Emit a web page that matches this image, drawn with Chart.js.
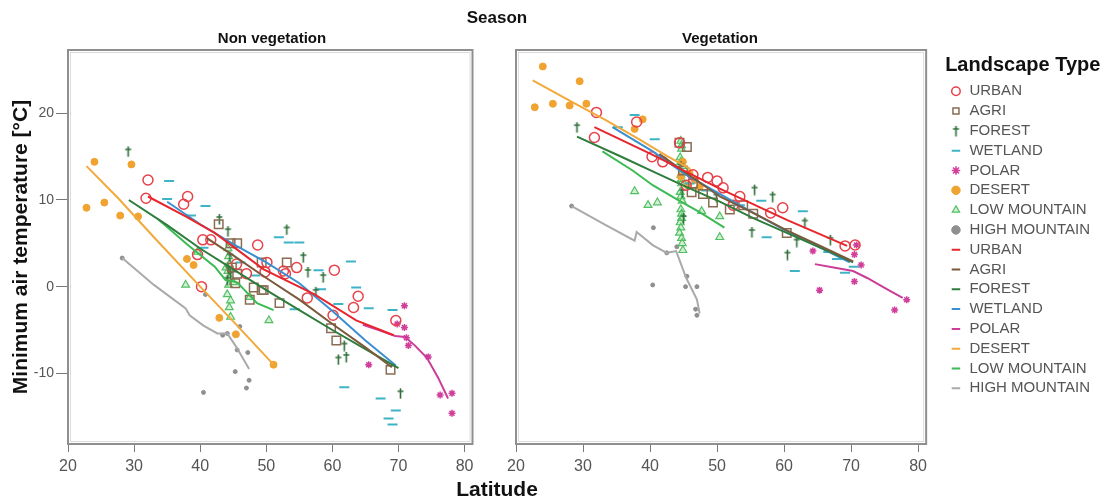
<!DOCTYPE html>
<html>
<head>
<meta charset="utf-8">
<script src="https://cdn.jsdelivr.net/npm/chart.js@4.4.1/dist/chart.umd.min.js"></script>
<style>
    body { margin: 0; background: #fff; width: 1113px; height: 502px; position: relative; overflow: hidden; font-family: "Liberation Sans", Arial, sans-serif; }
    canvas { position: absolute; top: 0; }
    #nonVegChart { left: 0; }
    #vegChart { left: 480px; }
    .lbl { position: absolute; font-weight: bold; color: #111; white-space: nowrap; transform: translateX(-50%); }
</style>
</head>
<body>
<canvas id="nonVegChart" width="480" height="502"></canvas>
<canvas id="vegChart" width="633" height="502"></canvas>
<div class="lbl" style="left:497px; top:8px; font-size:17px; line-height:20px;">Season</div>
<div class="lbl" style="left:272px; top:29px; font-size:15px; line-height:18px;">Non vegetation</div>
<div class="lbl" style="left:720px; top:29px; font-size:15px; line-height:18px;">Vegetation</div>
<div class="lbl" style="left:497px; top:476px; font-size:21px; line-height:25px;">Latitude</div>
<script>
// Landscape types (legend order)
const landscapeTypes = ['URBAN', 'AGRI', 'FOREST', 'WETLAND', 'POLAR', 'DESERT', 'LOW MOUNTAIN', 'HIGH MOUNTAIN'];
const xTickValues = [20, 30, 40, 50, 60, 70, 80];
const yTickValues = [-10, 0, 10, 20];

// ---- Non vegetation season: observed points [latitude, min temp] ----
const nvUrban = [[31.8, 10.2], [32.1, 12.3], [37.5, 9.5], [38.1, 10.4], [39.6, 3.7], [40.4, 5.4], [41.6, 5.4], [40.2, 0.0],
    [48.7, 4.8], [50.1, 2.8], [49.8, 1.7], [52.9, 1.5], [54.6, 2.2], [52.6, 1.8], [56.2, -1.3], [60.3, 1.9],
    [60.1, -3.3], [63.9, -1.1], [63.2, -2.4], [69.6, -3.9], [45.5, 2.6], [47.0, 1.5]];
const nvAgri = [[42.8, 7.2], [44.6, 5.0], [45.6, 5.0], [45.3, 0.4], [48.1, -0.1], [49.6, -0.4], [47.5, -1.5], [49.3, 2.8],
    [53.1, 2.8], [49.3, -0.4], [52.0, -1.9], [59.8, -4.8], [60.6, -6.2], [68.8, -9.6], [45.6, 1.5], [44.8, 2.2]];
const nvForest = [[29.1, 15.6], [42.9, 7.8], [44.2, 6.4], [44.5, 3.5], [44.3, 2.0], [44.1, 0.8], [44.6, 1.5], [55.6, 3.4],
    [58.6, 1.1], [56.3, 1.7], [57.5, -0.6], [61.8, -6.8], [60.9, -8.4], [62.1, -8.1], [70.3, -12.3], [53.1, 6.6]];
const nvWetland = [[35.3, 12.2], [35.0, 10.1], [40.8, 9.3], [38.6, 8.2], [40.5, 4.5], [46.1, 2.8], [48.3, 1.3], [51.9, 5.7],
    [53.4, 5.1], [55.0, 5.1], [62.8, 2.9], [57.9, 1.9], [63.6, -0.1], [65.5, -2.5], [69.1, -2.7], [54.3, -2.6],
    [61.8, -11.6], [67.3, -12.9], [69.6, -14.3], [68.5, -15.2], [69.1, -15.9], [58.3, -0.3], [60.9, -2.0]];
const nvPolar = [[70.9, -2.2], [70.9, -4.7], [71.2, -5.9], [74.5, -8.1], [65.5, -9.0], [76.3, -12.5], [78.1, -12.3],
    [78.1, -14.6], [71.5, -6.8], [69.8, -4.3]];
const nvDesert = [[22.8, 9.1], [24.0, 14.4], [25.5, 9.7], [27.9, 8.2], [29.6, 14.1], [30.6, 8.1], [38.0, 3.2], [39.0, 2.5],
    [42.9, -3.6], [45.4, -5.5], [51.1, -9.0]];
const nvLowMountain = [[37.8, 0.2], [39.6, 4.0], [44.1, -0.9], [44.6, -3.5], [47.5, -1.2], [50.4, -3.9], [44.2, 4.4],
    [44.3, 3.5], [44.4, 2.6], [44.2, 1.8], [44.5, 1.0], [44.3, 0.2], [44.6, -1.6], [44.4, -2.4], [45.0, 0.5], [43.9, 2.2]];
const nvHighMountain = [[28.2, 3.3], [40.8, -0.9], [45.6, -7.3], [47.2, -7.6], [45.3, -9.8], [47.4, -10.8], [47.0, -11.7],
    [40.5, -12.2], [46.0, -4.6], [44.1, -5.4], [43.4, -5.6]];

// ---- Non vegetation season: fitted lines ----
const nvUrbanFit = [[32.1, 10.4], [37.8, 8.1], [42.2, 6.2], [49.6, 2.0], [57.3, -0.9], [63.6, -3.9], [69.3, -5.6]];
const nvAgriFit = [[41.0, 5.6], [45.0, 3.6], [50.0, 1.0], [55.0, -1.5], [60.0, -4.3], [65.0, -7.0], [69.0, -9.3]];
const nvForestFit = [[29.2, 10.0], [35.0, 7.1], [40.0, 4.4], [45.0, 2.0], [50.0, -0.4], [55.0, -2.7], [60.0, -5.0],
    [65.0, -7.2], [70.0, -9.4]];
const nvWetlandFit = [[35.0, 9.8], [40.0, 7.2], [45.0, 4.9], [50.0, 2.8], [55.0, 0.4], [60.0, -2.8], [65.0, -6.2], [69.6, -9.1]];
const nvPolarFit = [[64.6, -4.4], [67.0, -5.0], [69.5, -5.7], [71.0, -5.8], [72.5, -6.8], [74.3, -8.2], [76.0, -10.5], [77.5, -12.9]];
const nvDesertFit = [[22.8, 13.9], [27.6, 10.2], [33.0, 5.7], [40.0, 0.0], [45.0, -4.0], [51.1, -9.0]];
const nvLowMountainFit = [[33.6, 7.8], [38.0, 4.9], [42.2, 2.3], [43.8, 0.8], [45.6, 0.5], [48.6, -1.9], [51.1, -2.7]];
const nvHighMountainFit = [[28.2, 3.3], [33.0, 0.2], [37.8, -2.5], [38.4, -3.3], [40.5, -4.5], [42.6, -5.4], [44.1, -5.4],
    [45.5, -7.0], [47.4, -9.5]];

// ---- Vegetation season: observed points ----
const vUrban = [[32.0, 20.1], [31.7, 17.2], [38.0, 19.0], [44.4, 16.6], [40.3, 15.0], [41.9, 14.4], [48.6, 12.6],
    [50.0, 12.2], [59.8, 9.1], [69.1, 4.7], [70.6, 4.8], [46.4, 12.9], [50.9, 11.4], [53.4, 10.4], [58.0, 8.5],
    [45.4, 11.7], [52.4, 9.4]];
const vAgri = [[44.4, 16.6], [45.5, 16.1], [49.4, 9.7], [51.9, 8.9], [60.4, 6.2], [44.9, 13.4], [46.4, 11.9], [47.9, 10.7],
    [53.9, 9.4], [55.4, 8.4], [46.2, 10.9]];
const vForest = [[29.1, 18.4], [55.2, 6.3], [60.5, 3.7], [61.9, 5.2], [63.1, 7.4], [55.6, 11.2], [58.3, 10.4], [44.6, 13.9],
    [44.8, 10.9], [45.0, 7.9], [66.9, 5.4], [49.9, 10.4]];
const vWetland = [[37.7, 19.8], [40.7, 17.0], [35.2, 18.4], [62.8, 8.7], [57.4, 5.7], [61.6, 1.8], [67.9, 3.2], [69.1, 1.6],
    [56.6, 9.9], [45.9, 11.9], [53.4, 9.4], [48.4, 11.1], [66.6, 4.0], [70.4, 2.3]];
const vPolar = [[70.8, 4.8], [70.5, 3.7], [70.5, 0.6], [65.3, -0.4], [64.3, 4.1], [76.5, -2.7], [78.3, -1.5], [71.5, 2.5]];
const vDesert = [[24.0, 25.4], [29.5, 23.7], [22.8, 20.7], [25.5, 21.1], [28.0, 20.9], [30.5, 21.1], [38.9, 19.3],
    [37.7, 18.2], [44.9, 14.4], [45.9, 13.1], [46.7, 12.3], [47.4, 11.5], [45.6, 11.7], [44.6, 12.7]];
const vLowMountain = [[37.7, 11.0], [39.7, 9.4], [41.1, 9.7], [47.7, 8.7], [44.4, 6.2], [50.4, 8.1], [50.4, 5.7],
    [44.6, 16.8], [44.7, 15.9], [44.5, 14.9], [44.8, 13.9], [44.6, 12.9], [44.7, 11.9], [44.5, 10.9], [44.8, 9.9],
    [44.6, 8.9], [44.7, 7.9], [44.5, 7.4], [44.8, 5.0], [44.9, 4.2], [44.7, 16.3], [44.6, 14.4], [44.7, 12.4],
    [44.6, 10.4], [44.7, 8.4], [44.6, 6.8], [44.7, 5.6]];
const vHighMountain = [[28.3, 9.3], [40.5, 6.8], [44.0, 4.6], [40.4, 0.2], [45.5, 1.2], [47.0, 0.0], [45.3, 0.0],
    [47.0, -3.3], [46.8, -2.6], [42.5, 3.9]];

// ---- Vegetation season: fitted lines ----
const vUrbanFit = [[31.7, 18.4], [40.4, 15.2], [50.4, 11.3], [60.4, 7.7], [69.4, 4.7]];
const vAgriFit = [[41.4, 15.3], [45.4, 13.1], [50.4, 10.4], [55.4, 8.5], [60.4, 6.5], [65.4, 4.7], [70.3, 2.9]];
const vForestFit = [[29.1, 17.3], [35.4, 15.1], [40.4, 13.3], [45.4, 11.5], [50.4, 9.8], [55.4, 7.9], [60.4, 6.2],
    [65.4, 4.5], [70.3, 2.8]];
const vWetlandFit = [[34.4, 18.4], [40.4, 15.6], [45.4, 12.9], [50.4, 10.7], [55.4, 8.5], [60.4, 6.4], [65.4, 4.5], [69.8, 2.8]];
const vPolarFit = [[64.6, 2.6], [67.4, 2.2], [70.3, 1.8], [72.4, 1.0], [75.4, -0.3], [77.7, -1.3]];
const vDesertFit = [[22.5, 23.8], [28.4, 21.3], [33.4, 19.2], [38.4, 17.0], [42.5, 15.1], [46.0, 13.6]];
const vLowMountainFit = [[32.9, 15.6], [37.4, 13.4], [40.4, 11.7], [44.4, 9.9], [47.4, 8.6], [51.1, 6.8]];
const vHighMountainFit = [[28.3, 9.3], [33.4, 7.1], [37.7, 5.3], [38.0, 6.3], [40.4, 4.8], [42.5, 3.9], [43.9, 4.1],
    [45.4, 1.0], [47.0, -1.5], [47.4, -3.1]];

// Styles
const fontFamily = '"Liberation Sans", Arial, sans-serif';
Chart.defaults.font.family = fontFamily;

// Small dagger glyph used for forest points
function makeDagger(color) {
    const c = document.createElement('canvas');
    c.width = 9;
    c.height = 12;
    const g = c.getContext('2d');
    g.strokeStyle = color;
    g.lineWidth = 1.6;
    g.beginPath();
    g.moveTo(4.5, 1);
    g.lineTo(4.5, 11.5);
    g.moveTo(1.5, 4);
    g.lineTo(7.5, 4);
    g.stroke();
    return c;
}

const markerStyles = [
    { shape: 'circle', radius: 5, width: 1.5, color: '#e8414a', fill: 'rgba(0,0,0,0)' },
    { shape: 'rect', radius: 6, width: 1.5, color: '#8a6c52', fill: 'rgba(0,0,0,0)' },
    { shape: makeDagger('#2f6e3a'), radius: 4, width: 1, color: '#2f6e3a', fill: '#2f6e3a' },
    { shape: 'line', radius: 5, width: 2, color: '#3fb3c6', fill: '#3fb3c6' },
    { shape: 'star', radius: 3.5, width: 1.5, color: '#d23e9b', fill: '#d23e9b' },
    { shape: 'circle', radius: 3.5, width: 1, color: '#f0a330', fill: '#f0a330' },
    { shape: 'triangle', radius: 4.5, width: 1.2, color: '#52c062', fill: 'rgba(82,192,98,0.25)' },
    { shape: 'circle', radius: 2, width: 1, color: '#8f8f8f', fill: '#8f8f8f' }
];
const lineColors = ['#e8262d', '#7b5a3c', '#2e7d3c', '#3a8fd0', '#cc3d9a', '#f2a93b', '#3cba54', '#aaaaaa'];

// Draw the grey panel frame
const panelFrame = {
    id: 'panelFrame',
    beforeDatasetsDraw(chart) {
        const { ctx, chartArea: a } = chart;
        ctx.save();
        ctx.strokeStyle = '#8f8f8f';
        ctx.lineWidth = 2;
        ctx.strokeRect(a.left, a.top, a.right - a.left, a.bottom - a.top);
        ctx.strokeStyle = '#dcdcdc';
        ctx.lineWidth = 1;
        ctx.strokeRect(a.left + 2.5, a.top + 2.5, a.right - a.left - 5, a.bottom - a.top - 5);
        ctx.restore();
    }
};

function buildDatasets(points, fits) {
    const sets = [];
    landscapeTypes.forEach((name, i) => {
        const s = markerStyles[i];
        sets.push({
            label: name,
            data: points[i],
            pointStyle: s.shape,
            pointRadius: s.radius,
            pointBorderWidth: s.width,
            borderColor: s.color,
            backgroundColor: s.fill,
            order: 1
        });
    });
    landscapeTypes.forEach((name, i) => {
        sets.push({
            label: name,
            data: fits[i],
            showLine: true,
            pointRadius: 0,
            pointStyle: 'line',
            borderColor: lineColors[i],
            backgroundColor: lineColors[i],
            borderWidth: 2,
            order: 0
        });
    });
    return sets;
}

function xAxis() {
    return {
        type: 'linear',
        min: 20,
        max: 81.2,
        afterBuildTicks: s => { s.ticks = xTickValues.map(v => ({ value: v })); },
        afterFit: s => { s.height = 58; },
        grid: { drawOnChartArea: false, tickLength: 8, color: '#777' },
        border: { display: false },
        ticks: { font: { size: 16 }, color: '#555', padding: 5, maxRotation: 0 }
    };
}

function yRange() {
    return {
        type: 'linear',
        min: -18.15,
        max: 27.3,
        afterBuildTicks: s => { s.ticks = yTickValues.map(v => ({ value: v })); }
    };
}

// Left panel: non vegetation
new Chart(document.getElementById('nonVegChart'), {
    type: 'scatter',
    data: {
        datasets: buildDatasets(
            [nvUrban, nvAgri, nvForest, nvWetland, nvPolar, nvDesert, nvLowMountain, nvHighMountain],
            [nvUrbanFit, nvAgriFit, nvForestFit, nvWetlandFit, nvPolarFit, nvDesertFit, nvLowMountainFit, nvHighMountainFit]
        )
    },
    options: {
        responsive: false,
        animation: false,
        layout: { padding: { top: 50, right: 4, left: 0, bottom: 0 } },
        plugins: { legend: { display: false }, tooltip: { enabled: false } },
        scales: {
            x: xAxis(),
            y: Object.assign(yRange(), {
                afterFit: s => { s.width = 68; },
                grid: { drawOnChartArea: false, tickLength: 12, color: '#777' },
                border: { display: false },
                ticks: { font: { size: 14 }, color: '#555', padding: 2 },
                title: {
                    display: true,
                    text: 'Minimum air temperature [°C]',
                    font: { size: 21, weight: 'bold' },
                    color: '#111',
                    padding: { top: 9, bottom: 0 }
                }
            })
        }
    },
    plugins: [panelFrame]
});

// Right panel: vegetation, with the legend
new Chart(document.getElementById('vegChart'), {
    type: 'scatter',
    data: {
        datasets: buildDatasets(
            [vUrban, vAgri, vForest, vWetland, vPolar, vDesert, vLowMountain, vHighMountain],
            [vUrbanFit, vAgriFit, vForestFit, vWetlandFit, vPolarFit, vDesertFit, vLowMountainFit, vHighMountainFit]
        )
    },
    options: {
        responsive: false,
        animation: false,
        layout: { padding: { top: 50, right: 13, left: 0, bottom: 0 } },
        plugins: {
            tooltip: { enabled: false },
            legend: {
                position: 'right',
                align: 'start',
                maxWidth: 220,
                title: {
                    display: true,
                    text: 'Landscape Type',
                    position: 'start',
                    color: '#111',
                    font: { size: 20, weight: 'bold' },
                    padding: { top: 5, bottom: 0 }
                },
                labels: {
                    usePointStyle: true,
                    boxWidth: 12,
                    boxHeight: 6,
                    padding: 4.8,
                    color: '#555',
                    font: { size: 15 },
                    sort: (a, b) => a.datasetIndex - b.datasetIndex
                }
            }
        },
        scales: {
            x: xAxis(),
            y: Object.assign(yRange(), {
                afterFit: s => { s.width = 36; },
                grid: { display: false },
                border: { display: false },
                ticks: { display: false }
            }),
            gap: {
                position: 'right',
                min: 0,
                max: 1,
                grid: { display: false },
                border: { display: false },
                ticks: { display: false },
                afterFit: s => { s.width = 19; }
            }
        }
    },
    plugins: [panelFrame]
});
</script>
</body>
</html>
